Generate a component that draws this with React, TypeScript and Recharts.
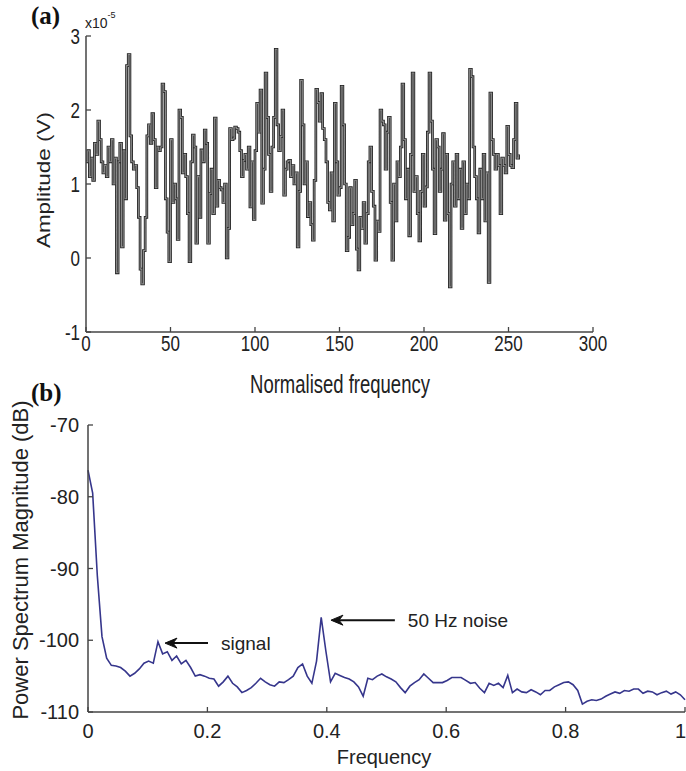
import React from "react";
import { LineChart, Line, XAxis, YAxis, ReferenceLine } from "recharts";

// (a) time-domain amplitude, in units of 1e-5 V, one value per normalised-frequency bin
const amplitudeTicks = [-1, 0, 1, 2, 3];
const binTicks = [0, 50, 100, 150, 200, 250, 300];
const amplitude = [
  1.3, 1.45, 1.1, 1.35, 1.05, 1.55, 1.4, 1.85, 1.6, 1.3,
  1.15, 1.25, 1.1, 1.5, 1.3, 1.6, 1.0, 1.35, -0.2, 1.3,
  1.55, 0.15, 1.45, 0.8, 2.6, 2.75, 1.65, 1.3, 1.2, 1.25,
  0.95, 0.55, -0.15, -0.35, 0.1, 0.55, 1.65, 1.8, 1.55, 1.95,
  1.6, 0.95, 1.5, 1.45, 1.5, 2.35, 2.25, 0.8, 0.35, -0.05,
  1.6, 0.75, 1.0, 0.8, 0.25, 2.0, 1.9, 1.15, 1.4, 1.1,
  0.6, -0.05, 1.3, 1.66,
  1.5, 0.2, 1.1, 0.55, 1.46, 1.3, 1.73, 1.55, 0.2, 0.87,
  1.2, 0.6, 1.89, 0.7, 1.05, 0.95, 0.92, 0.75, 1.0, 0.0,
  0.4, 1.75, 1.6, 1.62, 1.77, 1.75, 1.7, 1.45, 1.1, 1.32,
  1.4, 1.2, 1.5, 0.69, 1.3, 0.52, 1.45, 2.09, 1.7, 2.27,
  0.74, 1.2, 2.5, 1.9, 1.4, 0.9, 1.5, 1.9, 2.82, 1.8,
  1.45, 1.64, 2.0, 0.85, 1.2, 1.3, 1.32, 1.1, 1.25, 1.0,
  1.15, 0.15, 0.9, 2.4,
  1.8, 1.0, 1.3, 0.56, 0.75, 0.45, 0.24, 1.05, 2.28, 2.1,
  1.85, 2.22, 1.75, 1.6, 1.3, 0.75, 0.65, 1.15, 0.5, 2.09,
  1.3, 0.85, 0.95, 2.32, 1.8, 1.0, 0.1, 0.28, 0.95, 0.45,
  0.6, 1.05, 0.12, -0.16, 0.55, 0.4, 0.75, 0.2, 0.6, 1.3,
  1.5, 0.9, 0.7, -0.03, 0.5, 0.36, 2.0, 1.85, 1.8, 1.2,
  1.7, 1.9, 0.75, -0.03, 1.0, 0.5, 1.3, 1.1, 1.5, 2.35,
  1.6, 0.8, 1.2, 0.3,
  1.4, 2.5, 0.9, 1.1, 0.6, 0.23, 0.9, 1.4, 0.7, 0.96,
  1.7, 2.5, 1.85, 1.2, 0.33, 1.6, 1.5, 0.9, 1.2, 1.68,
  0.51, 1.4, 0.6, -0.39, 1.0, 1.3, 0.7, 1.4, 0.8, 1.2,
  0.4, 1.3, 0.6, 1.0, 0.8, 2.55, 2.45, 1.5, 1.1, 0.8,
  0.34, 1.2, 0.8, 1.4, 0.5, 1.15, -0.33, 2.23, 1.6, 1.4,
  1.2, 1.4, 1.25, 0.6, 1.35, 1.25, 1.15, 1.78, 1.4, 1.25,
  1.22, 1.6, 2.09, 1.35, 1.4,
];

// (b) power spectrum, 129 bins over normalised frequency 0..1
const freqTicks = [0, 0.2, 0.4, 0.6, 0.8, 1];
const dbTicks = [-110, -100, -90, -80, -70];
const psdMagnitude = [
  -76.3, -79.5, -91.0, -99.5, -102.5, -103.5, -103.6, -103.8, -104.3, -105.0,
  -104.6, -104.0, -103.2, -102.9, -103.2, -100.2, -101.9, -101.6, -102.8, -102.2,
  -103.3, -102.8, -103.8, -105.0, -104.8, -105.0, -105.3, -105.4, -106.4, -105.8,
  -105.0, -106.0, -106.5, -107.3, -107.0, -106.6, -106.0, -105.3, -105.8, -106.2,
  -106.4, -105.8, -105.9, -105.5, -105.0, -103.8, -103.3, -105.0, -106.0, -102.9,
  -96.8, -101.5, -105.8, -104.6, -104.9, -105.2, -105.4, -105.8, -106.5, -107.8,
  -105.3, -105.5, -105.0, -104.7, -105.1, -105.4, -105.8, -106.6, -107.3, -106.4,
  -105.9, -105.5, -104.7, -105.3, -105.9, -105.9, -105.9, -105.6, -105.2, -105.2,
  -105.2, -105.6, -106.0, -105.9, -106.7, -107.3, -106.0, -106.3, -106.0, -106.6,
  -104.9, -107.3, -106.8, -107.2, -107.3, -106.9, -107.2, -107.6, -107.0, -107.0,
  -106.5, -106.2, -105.9, -105.8, -106.2, -107.0, -108.9, -108.5, -108.3, -108.4,
  -108.2, -107.8, -107.5, -107.2, -107.4, -107.0, -107.1, -106.8, -106.8, -107.4,
  -107.1, -107.2, -107.6, -107.3, -107.1, -107.5, -107.2, -107.6, -108.3,
];

// annotation arrows: [tip freq, tail freq, level dB]
const signalArrow = [0.129, 0.201, -100.4];
const noiseArrow = [0.407, 0.514, -97.2];

const sigData = amplitude.map((v, i) => ({ n: i, v }));
const psdData = psdMagnitude.map((v, i) => ({ f: i / (psdMagnitude.length - 1), v }));

const FONT = '"Liberation Sans", Arial, Helvetica, sans-serif';
const STRETCH = 1.35; // panel (a) is vertically stretched in the source
const AXIS = "#444";
const TEXT = "#222";

function TopXTick({ x, y, payload }: any) {
  const axisY = y - 2;
  return (
    <g>
      <line x1={x} x2={x} y1={axisY} y2={axisY - 5} stroke={AXIS} strokeWidth={1.3} />
      <g transform={`translate(${x},${axisY + 19}) scale(1,${STRETCH})`}>
        <text textAnchor="middle" fontSize={17} fontFamily={FONT} fill={TEXT}>
          {payload.value}
        </text>
      </g>
    </g>
  );
}

function TopYTick({ x, y, payload }: any) {
  const axisX = x + 6;
  return (
    <g>
      <line x1={axisX} x2={axisX + 5} y1={y} y2={y} stroke={AXIS} strokeWidth={1.3} />
      <g transform={`translate(${x},${y}) scale(1,${STRETCH})`}>
        <text textAnchor="end" dy="0.36em" fontSize={17} fontFamily={FONT} fill={TEXT}>
          {payload.value}
        </text>
      </g>
    </g>
  );
}

function BottomXTick({ x, y, payload }: any) {
  const axisY = y - 2;
  const last = payload.value === 1;
  return (
    <g>
      <line x1={x} x2={x} y1={axisY} y2={axisY - 5} stroke={AXIS} strokeWidth={1.3} />
      <text
        x={last ? x + 1 : x}
        y={axisY + 26}
        textAnchor={last ? "end" : "middle"}
        fontSize={20}
        fontFamily={FONT}
        fill={TEXT}
      >
        {payload.value}
      </text>
    </g>
  );
}

function BottomYTick({ x, y, payload }: any) {
  const axisX = x + 9;
  return (
    <g>
      <line x1={axisX} x2={axisX + 5} y1={y} y2={y} stroke={AXIS} strokeWidth={1.3} />
      <text x={x} y={y} dy="0.36em" textAnchor="end" fontSize={20} fontFamily={FONT} fill={TEXT}>
        {payload.value}
      </text>
    </g>
  );
}

function arrowShape(label: string) {
  return (props: any) => {
    const { x1, y1, x2, y2 } = props;
    return (
      <g>
        <line x1={x1 + 8} y1={y1} x2={x2} y2={y2} stroke="#111" strokeWidth={2} />
        <path
          d={`M${x1},${y1} L${x1 + 12},${y1 - 5} L${x1 + 8},${y1} L${x1 + 12},${y1 + 5} Z`}
          fill="#111"
          stroke="#111"
          strokeWidth={1}
        />
        <text x={x2 + 13} y={y2} dy="0.36em" fontSize={19} fontFamily={FONT} fill={TEXT}>
          {label}
        </text>
      </g>
    );
  };
}

export default function App() {
  return (
    <div style={{ position: "absolute", left: 0, top: 0, width: 686, height: 771, background: "#fff" }}>
      <div style={{ position: "absolute", left: 0, top: 0 }}>
        <LineChart width={686} height={400} data={sigData} margin={{ top: 36, right: 93, bottom: 38, left: 26 }}>
          <XAxis
            dataKey="n"
            type="number"
            domain={[0, 300]}
            ticks={binTicks}
            interval={0}
            tickSize={0}
            tickMargin={2}
            tickLine={false}
            axisLine={{ stroke: AXIS, strokeWidth: 1.5 }}
            tick={<TopXTick />}
            height={30}
          />
          <YAxis
            type="number"
            domain={[-1, 3]}
            ticks={amplitudeTicks}
            interval={0}
            tickSize={0}
            tickMargin={6}
            tickLine={false}
            axisLine={{ stroke: AXIS, strokeWidth: 1.5 }}
            tick={<TopYTick />}
            width={60}
          />
          <Line
            type="stepAfter"
            dataKey="v"
            stroke="#1e1e1e"
            strokeWidth={2.7}
            dot={false}
            strokeLinejoin="miter"
            isAnimationActive={false}
          />
          <Line
            type="stepAfter"
            dataKey="v"
            stroke="#8a8a8a"
            strokeWidth={1.1}
            dot={false}
            strokeLinejoin="miter"
            isAnimationActive={false}
          />
        </LineChart>
      </div>

      <div style={{ position: "absolute", left: 0, top: 380 }}>
        <LineChart width={686} height={391} data={psdData} margin={{ top: 45, right: 1, bottom: 29, left: 28 }}>
          <XAxis
            dataKey="f"
            type="number"
            domain={[0, 1]}
            ticks={freqTicks}
            interval={0}
            tickSize={0}
            tickMargin={2}
            tickLine={false}
            axisLine={{ stroke: AXIS, strokeWidth: 1.5 }}
            tick={<BottomXTick />}
            height={30}
          />
          <YAxis
            type="number"
            domain={[-110, -70]}
            ticks={dbTicks}
            interval={0}
            tickSize={0}
            tickMargin={9}
            tickLine={false}
            axisLine={{ stroke: AXIS, strokeWidth: 1.5 }}
            tick={<BottomYTick />}
            width={60}
          />
          <Line
            type="linear"
            dataKey="v"
            stroke="#36368c"
            strokeWidth={1.6}
            dot={false}
            isAnimationActive={false}
          />
          <ReferenceLine
            segment={[
              { x: signalArrow[0], y: signalArrow[2] },
              { x: signalArrow[1], y: signalArrow[2] },
            ]}
            ifOverflow="visible"
            shape={arrowShape("signal")}
          />
          <ReferenceLine
            segment={[
              { x: noiseArrow[0], y: noiseArrow[2] },
              { x: noiseArrow[1], y: noiseArrow[2] },
            ]}
            ifOverflow="visible"
            shape={arrowShape("50 Hz noise")}
          />
        </LineChart>
      </div>

      <svg
        width={686}
        height={771}
        style={{ position: "absolute", left: 0, top: 0, pointerEvents: "none" }}
      >
        <text x={31} y={24} fontSize={25} fontWeight="bold" fontFamily='"Liberation Serif", "Times New Roman", serif' fill="#111">
          (a)
        </text>
        <text x={31} y={401} fontSize={25} fontWeight="bold" fontFamily='"Liberation Serif", "Times New Roman", serif' fill="#111">
          (b)
        </text>
        <text x={85} y={28} fontSize={14} fontFamily={FONT} fill={TEXT}>
          x10
          <tspan fontSize={9} dy={-10}>-5</tspan>
        </text>
        <g transform={`translate(50,180) scale(1,1.25) rotate(-90)`}>
          <text textAnchor="middle" fontSize={18} fontFamily={FONT} fill={TEXT}>
            Amplitude (V)
          </text>
        </g>
        <g transform={`translate(340,393) scale(1,${STRETCH})`}>
          <text textAnchor="middle" fontSize={18.5} fontFamily={FONT} fill={TEXT}>
            Normalised frequency
          </text>
        </g>
        <text
          transform="translate(28,560) rotate(-90)"
          textAnchor="middle"
          fontSize={22}
          fontFamily={FONT}
          fill={TEXT}
        >
          Power Spectrum Magnitude (dB)
        </text>
        <text x={384} y={764} textAnchor="middle" fontSize={20} fontFamily={FONT} fill={TEXT}>
          Frequency
        </text>
      </svg>
    </div>
  );
}
